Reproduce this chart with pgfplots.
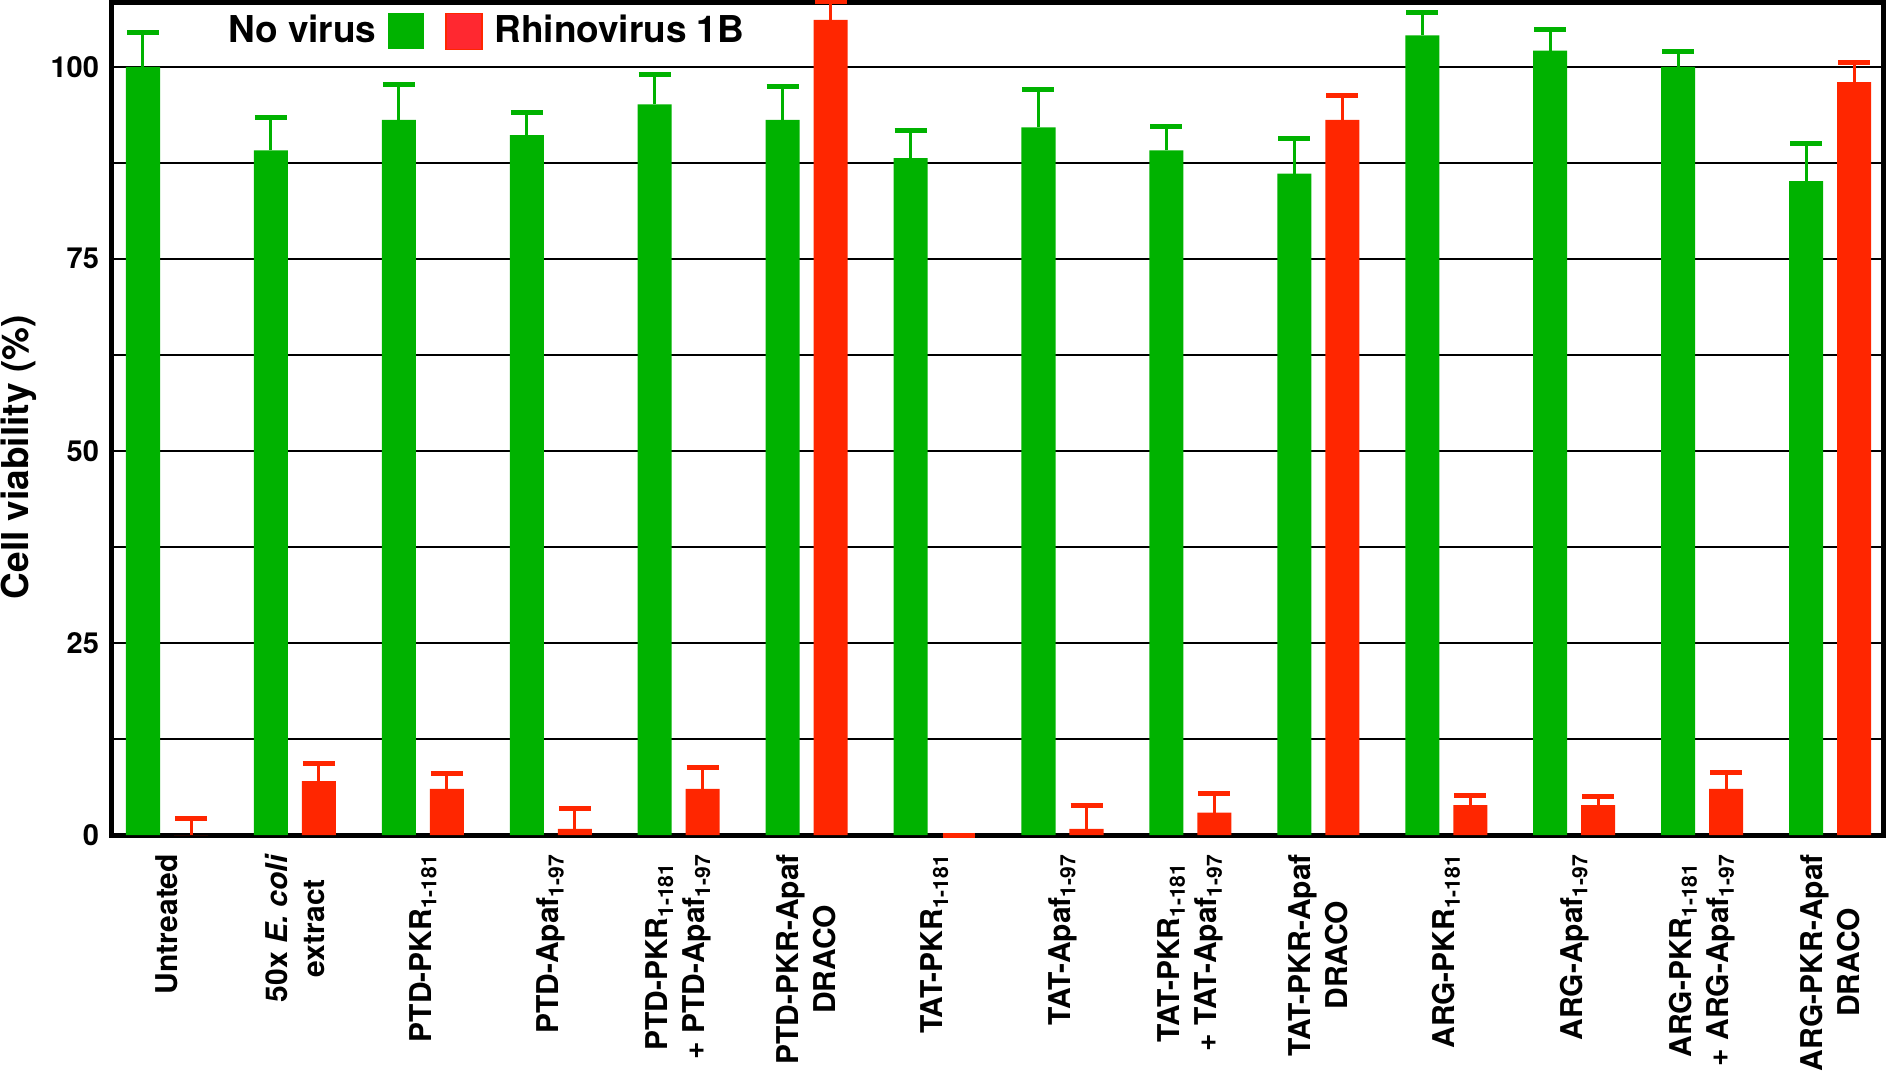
\documentclass[border=0pt]{standalone}
\usepackage{pgfplots}
\pgfplotsset{compat=1.18}
\usepackage{fontspec}
\setmainfont{TeX Gyre Heros}

\definecolor{barGreen}{RGB}{0,178,0}
\definecolor{barRed}{RGB}{255,38,0}
\definecolor{keyRed}{RGB}{255,40,48}

\begin{document}
\begin{tikzpicture}
\begin{axis}[
  scale only axis,
  width=885.5pt, height=416pt,
  xmin=-0.43, xmax=13.414,
  ymin=0, ymax=108.3,
  clip=false,
  axis line style={line width=2.5pt, line cap=rect},
  ytick={0,25,50,75,100},
  minor ytick={12.5,37.5,62.5,87.5},
  ymajorgrids, yminorgrids,
  major grid style={black, line width=1.25pt},
  minor grid style={black, line width=1.25pt},
  major tick length=0pt, minor tick length=0pt,
  tick style={draw=none},
  xtick={0,...,13},
  xticklabels={
    {Untreated},
    {50x \textit{E. coli}\\extract},
    {PTD-PKR\textsubscript{1-181}},
    {PTD-Apaf\textsubscript{1-97}},
    {PTD-PKR\textsubscript{1-181}\\+ PTD-Apaf\textsubscript{1-97}},
    {PTD-PKR-Apaf\\DRACO},
    {TAT-PKR\textsubscript{1-181}},
    {TAT-Apaf\textsubscript{1-97}},
    {TAT-PKR\textsubscript{1-181}\\+ TAT-Apaf\textsubscript{1-97}},
    {TAT-PKR-Apaf\\DRACO},
    {ARG-PKR\textsubscript{1-181}},
    {ARG-Apaf\textsubscript{1-97}},
    {ARG-PKR\textsubscript{1-181}\\+ ARG-Apaf\textsubscript{1-97}},
    {ARG-PKR-Apaf\\DRACO}},
  xticklabel shift=6pt,
  xticklabel style={rotate=90, anchor=east, align=center,
    font=\fontsize{15}{18.5}\selectfont\bfseries},
  yticklabel shift=3pt,
  yticklabel style={font=\fontsize{14.5}{17}\selectfont\bfseries},
  /pgf/number format/assume math mode=true,
  ylabel={Cell viability (\%)},
  ylabel style={at={(axis description cs:-0.0525,0.454)}, anchor=center,
    font=\fontsize{18.5}{22}\selectfont\bfseries},
  ybar, bar width=0.266,
]
% No virus
\addplot[ybar, bar shift=0pt, fill=barGreen, draw=none,
  error bars/.cd, y dir=plus, y explicit,
  error bar style={draw=barGreen, line width=1.5pt},
  error mark=-, error mark options={rotate=90, draw=barGreen, line width=2.5pt, mark size=8pt}]
coordinates {
  (-0.1877,100.0) +- (0,4.5)
  (0.8123,89.1)   +- (0,4.3)
  (1.8123,93.1)   +- (0,4.6)
  (2.8123,91.1)   +- (0,2.9)
  (3.8123,95.1)   +- (0,3.9)
  (4.8123,93.1)   +- (0,4.3)
  (5.8123,88.1)   +- (0,3.6)
  (6.8123,92.1)   +- (0,5.0)
  (7.8123,89.1)   +- (0,3.1)
  (8.8123,86.1)   +- (0,4.6)
  (9.8123,104.1)  +- (0,3.0)
  (10.8123,102.1) +- (0,2.7)
  (11.8123,100.0) +- (0,2.0)
  (12.8123,85.1)  +- (0,4.9)
};
% Rhinovirus 1B
\addplot[ybar, bar shift=0pt, fill=barRed, draw=none,
  error bars/.cd, y dir=plus, y explicit,
  error bar style={draw=barRed, line width=1.5pt},
  error mark=-, error mark options={rotate=90, draw=barRed, line width=2.5pt, mark size=8pt}]
coordinates {
  (0.1877,0.0)    +- (0,2.2)
  (1.1877,7.0)    +- (0,2.3)
  (2.1877,6.0)    +- (0,2.0)
  (3.1877,0.8)    +- (0,2.7)
  (4.1877,6.0)    +- (0,2.8)
  (5.1877,106.1)  +- (0,2.4)
  (6.1877,0.0)    +- (0,0.0)
  (7.1877,0.8)    +- (0,3.1)
  (8.1877,2.9)    +- (0,2.5)
  (9.1877,93.1)   +- (0,3.1)
  (10.1877,3.9)   +- (0,1.3)
  (11.1877,3.9)   +- (0,1.1)
  (12.1877,6.0)   +- (0,2.2)
  (13.1877,98.0)  +- (0,2.6)
};
\end{axis}
% key
\node[anchor=base east, inner sep=0pt, font=\fontsize{18.5}{22}\selectfont\bfseries]
  at ([xshift=132.5pt, yshift=-20pt]current axis.north west) {No virus};
\fill[barGreen] ([xshift=138pt, yshift=-5.2pt]current axis.north west)
  rectangle ([xshift=156pt, yshift=-23.2pt]current axis.north west);
\filldraw[fill=keyRed, draw=barRed, line width=0.6pt]
  ([xshift=167pt, yshift=-5.2pt]current axis.north west)
  rectangle ([xshift=185pt, yshift=-23.2pt]current axis.north west);
\node[anchor=base west, inner sep=0pt, font=\fontsize{18.5}{22}\selectfont\bfseries]
  at ([xshift=191pt, yshift=-20pt]current axis.north west) {Rhinovirus 1B};
% page frame
\pgfresetboundingbox
\useasboundingbox ([xshift=-56pt, yshift=-125.5pt]current axis.south west)
  rectangle ([xshift=3pt, yshift=1.5pt]current axis.north east);
\end{tikzpicture}
\end{document}
